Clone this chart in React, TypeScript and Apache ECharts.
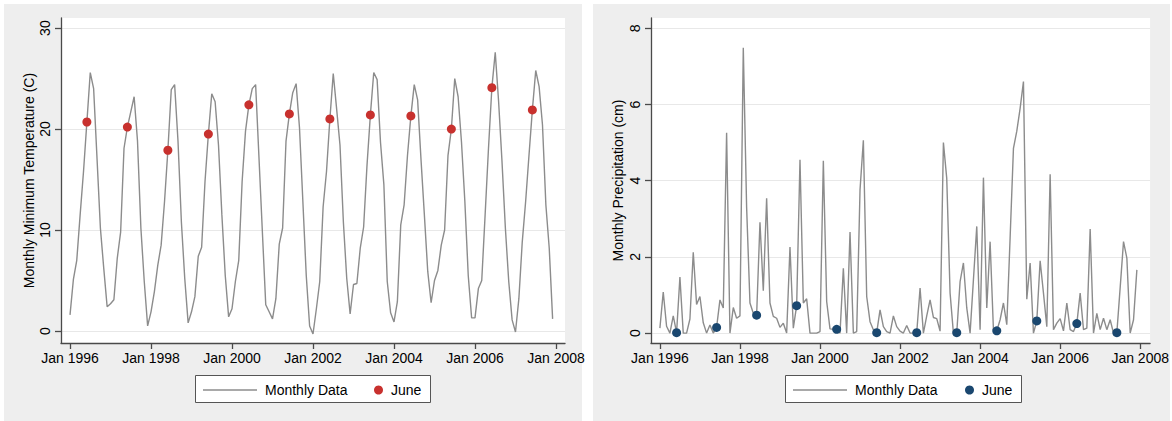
import React, { useEffect, useRef } from "react";
import * as echarts from "echarts";

// Monthly series, Jan 1996 .. Dec 2007 (one row per year)
const monthlyTemp = [
  1.6, 5.1, 7.0, 11.5, 15.8, 20.7, 25.6, 24.0, 17.1, 10.2, 6.2, 2.4,
  2.7, 3.1, 7.2, 9.8, 18.1, 20.2, 21.7, 23.2, 18.8, 10.2, 4.9, 0.5,
  1.9, 3.9, 6.5, 8.5, 12.8, 17.9, 23.9, 24.4, 18.8, 10.8, 5.2, 0.8,
  1.9, 3.4, 7.4, 8.3, 14.8, 19.5, 23.5, 22.7, 18.4, 11.5, 5.5, 1.4,
  2.2, 4.9, 7.0, 14.8, 19.8, 22.4, 24.0, 24.4, 17.1, 9.8, 2.6, 1.9,
  1.2, 3.2, 8.6, 10.2, 18.8, 21.5, 23.6, 24.5, 20.1, 12.8, 5.5, 0.5,
  -0.3, 2.2, 4.9, 12.3, 15.8, 21.0, 25.5, 22.0, 18.4, 10.8, 5.2, 1.7,
  4.6, 4.7, 8.2, 10.3, 16.4, 21.4, 25.6, 24.9, 18.7, 14.5, 4.9, 1.8,
  0.9, 2.9, 10.5, 12.5, 17.4, 21.3, 24.4, 22.9, 17.0, 11.5, 5.9, 2.8,
  5.0, 6.0, 8.5, 10.0, 17.4, 20.0, 25.0, 23.2, 18.7, 12.8, 5.5, 1.3,
  1.3, 4.2, 5.0, 11.5, 18.1, 24.1, 27.6, 22.7, 16.8, 10.2, 4.9, 1.1,
  -0.1, 3.2, 8.8, 12.8, 17.4, 21.9, 25.8, 24.2, 20.4, 12.5, 8.2, 1.2,
];

const juneTemp = [20.7, 20.2, 17.9, 19.5, 22.4, 21.5, 21.0, 21.4, 21.3, 20.0, 24.1, 21.9];

const monthlyPrecip = [
  0.13, 1.08, 0.18, 0.0, 0.45, 0.01, 1.47, 0.0, 0.0, 0.37, 2.12, 0.75,
  0.96, 0.27, 0.0, 0.21, 0.0, 0.15, 0.87, 0.66, 5.26, 0.0, 0.67, 0.39,
  0.45, 7.49, 3.3, 0.79, 0.52, 0.47, 2.91, 1.11, 3.54, 0.79, 0.44, 0.39,
  0.15, 0.26, 0.0, 2.26, 0.13, 0.72, 4.55, 0.79, 0.9, 0.0, 0.0, 0.0,
  0.04, 4.52, 0.83, 0.11, 0.1, 0.1, 0.0, 1.7, 0.0, 2.65, 0.0, 0.04,
  3.76, 5.06, 0.96, 0.3, 0.09, 0.01, 0.61, 0.17, 0.04, 0.0, 0.45, 0.17,
  0.05, 0.0, 0.2, 0.0, 0.0, 0.01, 1.18, 0.0, 0.45, 0.87, 0.41, 0.38,
  0.05, 5.0, 4.06, 1.05, 0.0, 0.01, 1.35, 1.84, 0.66, 0.0, 1.4, 2.8,
  0.09, 4.08, 0.66, 2.4, 0.09, 0.06, 0.35, 0.79, 0.22, 2.5, 4.85, 5.3,
  5.9, 6.6, 0.89, 1.84, 0.0, 0.32, 1.9, 1.05, 0.17, 4.17, 0.09, 0.26,
  0.38, 0.06, 0.79, 0.09, 0.04, 0.25, 1.05, 0.09, 0.13, 2.73, 0.0, 0.52,
  0.09, 0.39, 0.09, 0.35, 0.0, 0.01, 1.2, 2.4, 1.97, 0.0, 0.35, 1.66,
];

const junePrecip = [0.01, 0.15, 0.47, 0.72, 0.1, 0.01, 0.01, 0.01, 0.06, 0.32, 0.25, 0.01];

const startYear = 1996;
const tickYears = [1996, 1998, 2000, 2002, 2004, 2006, 2008];
const tempTicks = [0, 10, 20, 30];
const precipTicks = [0, 2, 4, 6, 8];

const FONT = "'Liberation Sans', Arial, Helvetica, sans-serif";
const AXIS = "#4a4a4a";
const GRIDLINE = "#e8e8e8";
const LINE = "#8c8c8c";
const RED = "#c8312e";
const NAVY = "#1a476f";

const tickMonths = tickYears.map((y) => (y - startYear) * 12);

function xAxisFor(gridIndex: number, min: number, max: number) {
  return {
    type: "value",
    gridIndex,
    min,
    max,
    axisLine: { show: true, onZero: false, lineStyle: { color: AXIS, width: 1.3 } },
    axisTick: { show: true, length: 6, customValues: tickMonths, lineStyle: { color: AXIS, width: 1.3 } },
    axisLabel: {
      customValues: tickMonths,
      formatter: (v: number) => "Jan " + (startYear + Math.round(v / 12)),
      fontSize: 14,
      color: "#000",
      fontFamily: FONT,
      margin: 8,
    },
    splitLine: { show: false },
  };
}

function yAxisFor(gridIndex: number, min: number, max: number, ticks: number[], name: string, nameGap: number) {
  return {
    type: "value",
    gridIndex,
    min,
    max,
    name,
    nameLocation: "middle",
    nameRotate: 90,
    nameGap,
    nameTextStyle: { fontSize: 14, color: "#000", fontFamily: FONT },
    axisLine: { show: true, onZero: false, lineStyle: { color: AXIS, width: 1.3 } },
    axisTick: { show: true, length: 6, customValues: ticks, lineStyle: { color: AXIS, width: 1.3 } },
    axisLabel: {
      customValues: ticks,
      rotate: 90,
      fontSize: 14,
      color: "#000",
      fontFamily: FONT,
      margin: 9,
    },
    splitLine: { show: true, lineStyle: { color: GRIDLINE, width: 1.2 } },
  };
}

function legendFor(name: string, icon: string, left: number, itemWidth: number, itemHeight: number) {
  return {
    data: [{ name, icon }],
    left,
    top: 383,
    orient: "horizontal",
    padding: 0,
    itemWidth,
    itemHeight,
    selectedMode: false,
    formatter: (n: string) => n.replace(/#.*$/, ""),
    textStyle: { fontSize: 14, color: "#000", fontFamily: FONT, padding: [0, 0, 0, 3] },
  };
}

export default function App() {
  const ref = useRef<HTMLDivElement>(null);

  useEffect(() => {
    const chart = echarts.init(ref.current!, null, { renderer: "svg" });

    const tempLine = monthlyTemp.map((v, i) => [i, v]);
    const tempJune = juneTemp.map((v, k) => [k * 12 + 5, v]);
    const precLine = monthlyPrecip.map((v, i) => [i, v]);
    const precJune = junePrecip.map((v, k) => [k * 12 + 5, v]);

    const option: any = {
      animation: false,
      backgroundColor: "#ffffff",
      textStyle: { fontFamily: FONT },
      graphic: [
        { type: "rect", z: -10, shape: { x: 4, y: 4, width: 578, height: 417 }, style: { fill: "#eeeeee" }, silent: true },
        { type: "rect", z: -10, shape: { x: 593, y: 4, width: 577, height: 417 }, style: { fill: "#eeeeee" }, silent: true },
        { type: "rect", z: 1, shape: { x: 195.5, y: 375.5, width: 235, height: 27 }, style: { fill: "#ffffff", stroke: "#555555", lineWidth: 1 }, silent: true },
        { type: "rect", z: 1, shape: { x: 785.5, y: 375.5, width: 236, height: 27 }, style: { fill: "#ffffff", stroke: "#555555", lineWidth: 1 }, silent: true },
      ],
      grid: [
        { left: 61, top: 18, width: 504, height: 325, show: true, backgroundColor: "#ffffff", borderWidth: 0 },
        { left: 651, top: 18, width: 505, height: 325, show: true, backgroundColor: "#ffffff", borderWidth: 0 },
      ],
      xAxis: [xAxisFor(0, -2.67, 146.67), xAxisFor(1, -2.67, 146.96)],
      yAxis: [
        yAxisFor(0, -1.19, 31.0, tempTicks, "Monthly Minimum Temperature (C)", 25),
        yAxisFor(1, -0.26, 8.27, precipTicks, "Monthly Precipitation (cm)", 26),
      ],
      legend: [
        legendFor("Monthly Data#t", "rect", 203, 54, 1.4),
        legendFor("June#t", "circle", 374, 9, 9),
        legendFor("Monthly Data#p", "rect", 793, 54, 1.4),
        legendFor("June#p", "circle", 965, 9, 9),
      ],
      series: [
        {
          name: "Monthly Data#t",
          type: "line",
          xAxisIndex: 0,
          yAxisIndex: 0,
          data: tempLine,
          symbol: "none",
          lineStyle: { color: LINE, width: 1.4 },
          itemStyle: { color: LINE },
          z: 2,
        },
        {
          name: "June#t",
          type: "scatter",
          xAxisIndex: 0,
          yAxisIndex: 0,
          data: tempJune,
          symbol: "circle",
          symbolSize: 9,
          itemStyle: { color: RED, opacity: 1 },
          z: 3,
        },
        {
          name: "Monthly Data#p",
          type: "line",
          xAxisIndex: 1,
          yAxisIndex: 1,
          data: precLine,
          symbol: "none",
          lineStyle: { color: LINE, width: 1.4 },
          itemStyle: { color: LINE },
          z: 2,
        },
        {
          name: "June#p",
          type: "scatter",
          xAxisIndex: 1,
          yAxisIndex: 1,
          data: precJune,
          symbol: "circle",
          symbolSize: 9,
          itemStyle: { color: NAVY, opacity: 1 },
          z: 3,
        },
      ],
    };

    chart.setOption(option);
    return () => chart.dispose();
  }, []);

  return (
    <div
      ref={ref}
      style={{ position: "absolute", left: 0, top: 0, width: 1172, height: 421 }}
    />
  );
}
